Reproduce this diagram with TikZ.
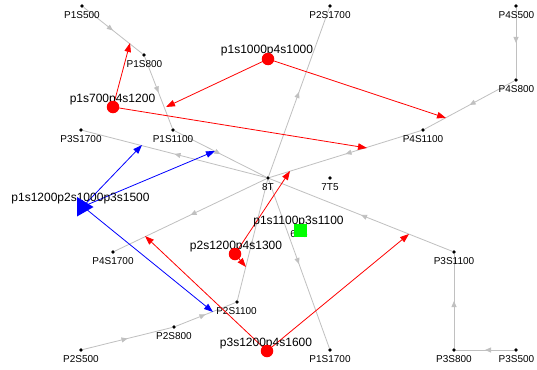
\documentclass[tikz,border=0pt]{standalone}
\usepackage{fontspec}
\setmainfont{Liberation Sans}
\usetikzlibrary{arrows.meta,decorations.markings}
\definecolor{lgray}{RGB}{192,192,192}
\definecolor{pred}{RGB}{255,0,0}
\definecolor{pblue}{RGB}{0,0,255}
\definecolor{pgreen}{RGB}{0,255,0}
\begin{document}
\begin{tikzpicture}[x=1pt,y=-1pt,
  dot/.style={circle,fill=black,inner sep=0pt,minimum size=3.6pt},
  glbl/.style={anchor=base,inner sep=0pt,font=\fontsize{10}{12}\selectfont},
  clbl/.style={anchor=base,inner sep=0pt,font=\fontsize{12}{14}\selectfont},
  gedge/.style={color=lgray,line width=0.8pt,postaction={decorate},
    decoration={markings,mark=at position 0.5 with {\arrow{Triangle[length=6pt,width=5pt]}}}},
  redarr/.style={color=pred,line width=0.8pt,-{Triangle[length=9pt,width=6.5pt]}},
  bluearr/.style={color=pblue,line width=0.8pt,-{Triangle[length=9pt,width=6.5pt]}},
  redc/.style={circle,fill=pred,inner sep=0pt,minimum size=12.5pt},
  greensq/.style={rectangle,fill=pgreen,inner sep=0pt,minimum size=13pt},
]
\useasboundingbox (0,0) rectangle (537,369);
\fill[white] (0,0) rectangle (537,369);

% gray places
\node[dot] (p1s500) at (82,6) {};
\node[dot] (p1s800) at (144,55) {};
\node[dot] (p1s1100) at (173,130) {};
\node[dot] (p1s1700) at (330,350) {};
\node[dot] (p2s500) at (81,350) {};
\node[dot] (p2s800) at (174,327) {};
\node[dot] (p2s1100) at (237,302) {};
\node[dot] (p2s1700) at (330,6) {};
\node[dot] (p3s500) at (516,350) {};
\node[dot] (p3s800) at (454,350) {};
\node[dot] (p3s1100) at (454,252) {};
\node[dot] (p3s1700) at (81,130) {};
\node[dot] (p4s500) at (516,6) {};
\node[dot] (p4s800) at (516,80) {};
\node[dot] (p4s1100) at (423,130) {};
\node[dot] (p4s1700) at (113,252) {};
\node[dot] (t8) at (268,178) {};
\node[dot] (t7) at (330,178) {};
\node[dot] (t6) at (300,225) {};

% gray edges
\draw[gedge] (p1s500) -- (p1s800);
\draw[gedge] (p1s800) -- (p1s1100);
\draw[gedge] (p1s1100) -- (t8);
\draw[gedge] (t8) -- (p1s1700);
\draw[gedge] (p2s500) -- (p2s800);
\draw[gedge] (p2s800) -- (p2s1100);
\draw[gedge] (p2s1100) -- (t8);
\draw[gedge] (t8) -- (p2s1700);
\draw[gedge] (p3s500) -- (p3s800);
\draw[gedge] (p3s800) -- (p3s1100);
\draw[gedge] (p3s1100) -- (t8);
\draw[gedge] (t8) -- (p3s1700);
\draw[gedge] (p4s500) -- (p4s800);
\draw[gedge] (p4s800) -- (p4s1100);
\draw[gedge] (p4s1100) -- (t8);
\draw[gedge] (t8) -- (p4s1700);

% gray labels
\node[glbl] (l1) at (82,18.5) {P1S500};
\node[glbl] (l2) at (144.5,67.5) {P1S800};
\node[glbl] (l3) at (173,142.5) {P1S1100};
\node[glbl] (l4) at (330,362.5) {P1S1700};
\node[glbl] (l5) at (81,362.5) {P2S500};
\node[glbl] (l6) at (174,339.5) {P2S800};
\node[glbl] (l7) at (236.5,314.5) {P2S1100};
\node[glbl] (l8) at (330,18.5) {P2S1700};
\node[glbl] (l9) at (516.5,362.5) {P3S500};
\node[glbl] (l10) at (454,362.5) {P3S800};
\node[glbl] (l11) at (454,264.5) {P3S1100};
\node[glbl] (l12) at (81,142.5) {P3S1700};
\node[glbl] (l13) at (516.5,18.5) {P4S500};
\node[glbl] (l14) at (516.5,92.5) {P4S800};
\node[glbl] (l15) at (423,142.5) {P4S1100};
\node[glbl] (l16) at (113,264.5) {P4S1700};
\node[glbl] (l17) at (268,190.5) {8T};
\node[glbl] (l18) at (330,190.5) {7T5};
\node[glbl] (l19) at (299,237.5) {6T6};

% transition positions
\coordinate (a) at (113,107);
\coordinate (b) at (268,59);
\coordinate (c) at (83,206.5);
\coordinate (d) at (300,230);
\coordinate (e) at (235,254);
\coordinate (f) at (267,351);

% arrow targets
\coordinate (a1) at (130,43);
\coordinate (a2) at (367,148);
\coordinate (b1) at (166,107);
\coordinate (b2) at (446,118);
\coordinate (c1) at (142,145);
\coordinate (c2) at (215,151);
\coordinate (c3) at (213,312);
\coordinate (e1) at (290,171);
\coordinate (e2) at (246,267);
\coordinate (f1) at (145,236);
\coordinate (f2) at (409,234);

\draw[redarr] (a) -- (a1);
\draw[redarr] (a) -- (a2);
\draw[redarr] (b) -- (b1);
\draw[redarr] (b) -- (b2);
\draw[bluearr] (c) -- (c1);
\draw[bluearr] (c) -- (c2);
\draw[bluearr] (c) -- (c3);
\draw[redarr] (e) -- (e1);
\draw[redarr] (e) -- (e2);
\draw[redarr] (f) -- (f1);
\draw[redarr] (f) -- (f2);

% colored labels
\node[clbl] (la) at (112.5,102) {p1s700p4s1200};
\node[clbl] (lb) at (267,53) {p1s1000p4s1000};
\node[clbl] (lc) at (80.5,201.5) {p1s1200p2s1000p3s1500};
\node[clbl] (ld) at (298.5,224.5) {p1s1100p3s1100};
\node[clbl] (le) at (236,249) {p2s1200p4s1300};
\node[clbl] (lf) at (266,346.5) {p3s1200p4s1600};

% colored shapes
\node[redc] (na) at (a) {};
\node[redc] (nb) at (b) {};
\node[redc] (ne) at (e) {};
\node[redc] (nf) at (f) {};
\node[greensq] (nd) at (d) {};
\fill[pblue] (77,197) -- (77,216.5) -- (93.5,207) -- cycle;
\end{tikzpicture}
\end{document}
